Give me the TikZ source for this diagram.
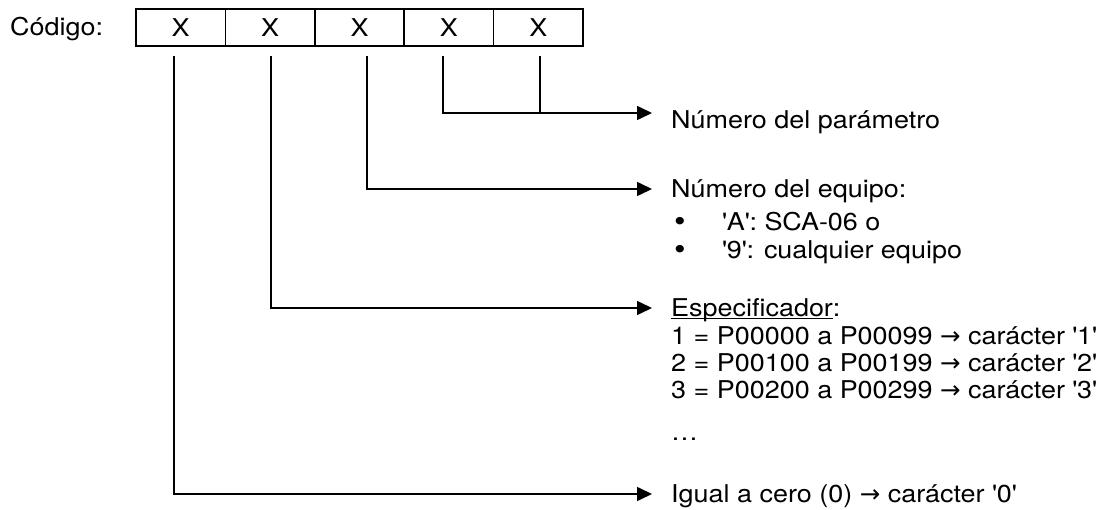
\documentclass[tikz,border=0pt]{standalone}
\usepackage{fontspec}
\setmainfont{TeX Gyre Heros}[FakeStretch=1.1]
\newfontfamily\symfont{DejaVu Sans}
\usetikzlibrary{arrows.meta}
\newcommand\ulword[1]{\setbox0\hbox{#1}\rlap{\rule[-3pt]{\wd0}{1.3pt}}\box0}

\begin{document}
\begin{tikzpicture}[
    x=1pt, y=-1pt,
    txt/.style={anchor=base west, inner sep=0pt, font=\fontsize{24.5}{28}\selectfont},
    dot/.style={anchor=base, inner sep=0pt, font=\fontsize{30}{28}\selectfont},
    cell/.style={rectangle, draw=black, line width=1.6pt, minimum width=89.4pt, minimum height=37pt,
                 inner sep=0pt, font=\fontsize{24.5}{28}\selectfont},
    link/.style={line width=1.6pt},
    arrow/.style={-{Triangle[length=15pt, width=14pt]}, line width=1.6pt}
]
\useasboundingbox (0,0) rectangle (1103,510);

% ==================== CODE ====================
\node[txt] (codigo) at (10,36) {Código:};
\foreach \i in {1,...,5}
    \node[cell] (c\i) at ({136+89.4*(\i-0.5)}, 27.5) {X};

% line starts under the boxes
\coordinate (s1) at (174,56);
\coordinate (s2) at (271,56);
\coordinate (s3) at (367,56);
\coordinate (s4) at (443,56);
\coordinate (s5) at (540,56);

% arrow tips
\coordinate (t1) at (652,113);
\coordinate (t2) at (652,189);
\coordinate (t3) at (652,308);
\coordinate (t4) at (652,494);

% ==================== TEXTS ====================
\node[txt] (param) at (671,128.5) {Número del parámetro};

\node[txt] (equipo) at (671,197.5) {Número del equipo:};
\node[dot] (b1) at (680,231.5) {•};
\node[txt] (equipo-a) at (722,230.5) {\textquotesingle A\textquotesingle: SCA-06 o};
\node[dot] (b2) at (680,259.5) {•};
\node[txt] (equipo-9) at (722,258.5) {\textquotesingle 9\textquotesingle: cualquier equipo};

\node[txt] (espec) at (671,316.5) {\ulword{Especificador}:};
\node[txt] (espec-1) at (671,344.5) {1 = P00000 a P00099 {\symfont →} carácter \textquotesingle 1\textquotesingle};
\node[txt] (espec-2) at (671,371.5) {2 = P00100 a P00199 {\symfont →} carácter \textquotesingle 2\textquotesingle};
\node[txt] (espec-3) at (671,399) {3 = P00200 a P00299 {\symfont →} carácter \textquotesingle 3\textquotesingle};
\node[txt] (espec-dots) at (671,440) {…};

\node[txt] (igual) at (671,502.5) {Igual a cero (0) {\symfont →} carácter \textquotesingle 0\textquotesingle};

% ==================== ARROWS ====================
\draw[arrow] (s4) |- (t1);
\draw[link] (s5) -- (s5 |- t1);
\draw[arrow] (s3) |- (t2);
\draw[arrow] (s2) |- (t3);
\draw[arrow] (s1) |- (t4);

\end{tikzpicture}
\end{document}
